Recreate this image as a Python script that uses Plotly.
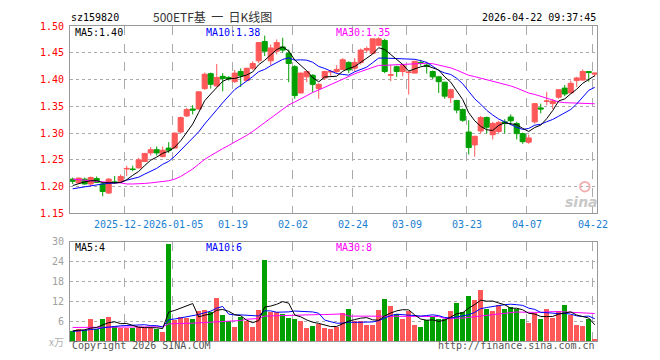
import pandas as pd
import plotly.graph_objects as go

# ---------------- data ----------------
holidays = ["2026-01-01", "2026-01-02", "2026-02-16", "2026-02-17", "2026-02-18",
            "2026-02-19", "2026-02-20", "2026-02-23", "2026-04-06"]
first_day = "2025-12-09"
last_day = "2026-04-22"

opens = [1.214, 1.207, 1.214, 1.205, 1.215, 1.205, 1.188, 1.209, 1.210, 1.233,
         1.233, 1.235, 1.247, 1.263, 1.269, 1.256, 1.272, 1.272, 1.302, 1.332,
         1.345, 1.345, 1.383, 1.411, 1.388, 1.406, 1.404, 1.396, 1.415, 1.398,
         1.421, 1.435, 1.471, 1.435, 1.453, 1.461, 1.449, 1.424, 1.375, 1.405,
         1.408, 1.383, 1.403, 1.414, 1.415, 1.419, 1.432, 1.421, 1.432, 1.455,
         1.449, 1.464, 1.473, 1.408, 1.424, 1.415, 1.413, 1.412, 1.432, 1.427,
         1.415, 1.405, 1.395, 1.366, 1.361, 1.344, 1.302, 1.278, 1.304, 1.329,
         1.297, 1.303, 1.321, 1.330, 1.318, 1.299, 1.283, 1.321, 1.347, 1.359,
         1.355, 1.367, 1.384, 1.375, 1.398, 1.399, 1.415, 1.410]
highs = [1.217, 1.217, 1.217, 1.219, 1.219, 1.207, 1.216, 1.220, 1.223, 1.239,
         1.239, 1.254, 1.263, 1.274, 1.275, 1.275, 1.283, 1.301, 1.331, 1.347,
         1.352, 1.378, 1.413, 1.413, 1.429, 1.412, 1.406, 1.418, 1.421, 1.422,
         1.434, 1.470, 1.482, 1.465, 1.475, 1.478, 1.456, 1.427, 1.413, 1.416,
         1.410, 1.393, 1.416, 1.418, 1.427, 1.440, 1.434, 1.440, 1.458, 1.462,
         1.476, 1.479, 1.476, 1.427, 1.426, 1.429, 1.415, 1.435, 1.437, 1.433,
         1.417, 1.407, 1.396, 1.383, 1.362, 1.346, 1.324, 1.295, 1.332, 1.331,
         1.321, 1.323, 1.326, 1.335, 1.321, 1.301, 1.297, 1.356, 1.355, 1.377,
         1.364, 1.381, 1.390, 1.398, 1.405, 1.419, 1.415, 1.412]
lows = [1.205, 1.205, 1.204, 1.201, 1.207, 1.182, 1.187, 1.205, 1.208, 1.220,
        1.229, 1.234, 1.246, 1.258, 1.258, 1.255, 1.263, 1.271, 1.300, 1.330,
        1.335, 1.344, 1.381, 1.383, 1.387, 1.378, 1.398, 1.394, 1.386, 1.398,
        1.418, 1.431, 1.444, 1.427, 1.447, 1.450, 1.395, 1.364, 1.374, 1.395,
        1.376, 1.364, 1.399, 1.407, 1.412, 1.418, 1.412, 1.415, 1.428, 1.450,
        1.447, 1.462, 1.412, 1.397, 1.405, 1.406, 1.372, 1.412, 1.426, 1.411,
        1.401, 1.375, 1.364, 1.356, 1.337, 1.321, 1.260, 1.256, 1.299, 1.299,
        1.288, 1.300, 1.299, 1.315, 1.288, 1.280, 1.280, 1.318, 1.337, 1.352,
        1.345, 1.364, 1.369, 1.375, 1.386, 1.398, 1.396, 1.405]
closes = [1.210, 1.216, 1.205, 1.217, 1.208, 1.191, 1.214, 1.207, 1.219, 1.234,
          1.232, 1.250, 1.262, 1.269, 1.263, 1.268, 1.268, 1.300, 1.329, 1.344,
          1.343, 1.377, 1.410, 1.391, 1.404, 1.402, 1.401, 1.412, 1.407, 1.421,
          1.430, 1.469, 1.453, 1.459, 1.469, 1.455, 1.430, 1.370, 1.412, 1.415,
          1.391, 1.391, 1.415, 1.415, 1.419, 1.437, 1.418, 1.432, 1.455, 1.458,
          1.476, 1.476, 1.415, 1.409, 1.415, 1.426, 1.414, 1.434, 1.430, 1.425,
          1.405, 1.396, 1.369, 1.381, 1.343, 1.324, 1.273, 1.294, 1.329, 1.311,
          1.318, 1.320, 1.318, 1.323, 1.299, 1.284, 1.291, 1.355, 1.345, 1.360,
          1.360, 1.381, 1.373, 1.393, 1.403, 1.415, 1.413, 1.412]
volumes = [3.0, 3.7, 3.3, 6.8, 3.7, 6.8, 7.2, 4.5, 4.0, 4.0,
           4.0, 4.3, 4.0, 4.0, 3.7, 2.8, 29.3, 6.5, 7.2, 7.0,
           6.7, 9.0, 9.3, 8.7, 12.9, 7.8, 6.2, 4.2, 7.2, 6.0,
           4.2, 9.3, 24.7, 8.7, 8.7, 8.2, 7.0, 6.7, 6.0, 4.0,
           4.7, 5.3, 4.0, 3.8, 4.2, 8.4, 9.8, 6.2, 6.0, 5.0,
           5.0, 9.3, 12.6, 10.5, 8.2, 6.8, 9.0, 5.0, 4.2, 6.5,
           7.2, 6.8, 6.8, 9.0, 11.4, 8.7, 13.8, 12.3, 15.6, 9.8,
           9.0, 10.8, 9.6, 10.4, 9.8, 6.6, 5.5, 8.6, 6.6, 9.6,
           6.9, 9.0, 10.8, 7.8, 4.8, 4.5, 6.8, 0.7]

ma5_head = [1.202, 1.206, 1.209, 1.211]
ma10_head = [1.196, 1.198, 1.200, 1.202, 1.204, 1.205, 1.206, 1.207, 1.208]
ma30_head = [1.214, 1.213, 1.212, 1.211, 1.210, 1.208, 1.207, 1.207, 1.207, 1.205,
             1.205, 1.205, 1.206, 1.207, 1.208, 1.209, 1.211, 1.214, 1.219, 1.226,
             1.233, 1.242, 1.251, 1.258, 1.265, 1.271, 1.277, 1.283, 1.289]
vma5_head = [3.1, 3.3, 3.4, 3.9]
vma10_head = [2.9, 3.0, 3.2, 3.5, 3.6, 4.0, 4.3, 4.4, 4.6]
vma30_head = [4.1, 4.1, 4.2, 4.2, 4.2, 4.3, 4.3, 4.3, 4.3, 4.3,
              4.3, 4.3, 4.3, 4.3, 4.3, 4.3, 5.2, 5.2, 5.3, 5.3,
              5.4, 5.5, 5.6, 5.7, 5.8, 5.9, 6.0, 6.1, 6.2]

tick_dates = ["2025-12-22", "2026-01-05", "2026-01-19", "2026-02-02", "2026-02-24",
              "2026-03-09", "2026-03-23", "2026-04-07", "2026-04-22"]
# first label is shown cut off by the next one, as in the original
tick_labels = ["2025-12-", "2026-01-05", "01-19", "02-02", "02-24",
               "03-09", "03-23", "04-07", "04-22"]
price_ticks = [1.15, 1.20, 1.25, 1.30, 1.35, 1.40, 1.45, 1.50]
vol_ticks = [6, 12, 18, 24, 30]

legend_price = ["MA5:1.40", "MA10:1.38", "MA30:1.35"]
legend_vol = ["MA5:4", "MA10:6", "MA30:8"]
code_text = "sz159820"
title_text = "500ETF基&nbsp;&nbsp;一&nbsp;&nbsp;日K线图"
time_text = "2026-04-22 09:37:45"

# ---------------- derived ----------------
days = [d for d in pd.bdate_range(first_day, last_day).strftime("%Y-%m-%d") if d not in holidays]
idx = list(range(len(days)))
tick_pos = [days.index(d) for d in tick_dates]


def moving(values, n, head):
    s = pd.Series(values).rolling(n).mean().tolist()
    return head + s[len(head):]


ma5 = moving(closes, 5, ma5_head)
ma10 = moving(closes, 10, ma10_head)
ma30 = moving(closes, 30, ma30_head)
vma5 = moving(volumes, 5, vma5_head)
vma10 = moving(volumes, 10, vma10_head)
vma30 = moving(volumes, 30, vma30_head)

RED = "#ff5858"
GREEN = "#00a000"
vol_colors = [RED if c >= o else GREEN for o, c in zip(opens, closes)]
MONO = "DejaVu Sans Mono"

fig = go.Figure()
fig.add_trace(go.Candlestick(
    x=idx, open=opens, high=highs, low=lows, close=closes,
    increasing=dict(line=dict(color=RED, width=1), fillcolor=RED),
    decreasing=dict(line=dict(color=GREEN, width=1), fillcolor=GREEN),
    whiskerwidth=0, showlegend=False, xaxis="x", yaxis="y"))
for vals, col in [(ma30, "#ff00ff"), (ma10, "#0000ff"), (ma5, "#000000")]:
    fig.add_trace(go.Scatter(x=idx, y=vals, mode="lines", line=dict(color=col, width=1),
                             showlegend=False, xaxis="x", yaxis="y"))
fig.add_trace(go.Bar(x=idx, y=volumes, marker=dict(color=vol_colors, line=dict(width=0)),
                     width=0.83, showlegend=False, xaxis="x2", yaxis="y2"))
for vals, col in [(vma30, "#ff00ff"), (vma10, "#0000ff"), (vma5, "#000000")]:
    fig.add_trace(go.Scatter(x=idx, y=vals, mode="lines", line=dict(color=col, width=1),
                             showlegend=False, xaxis="x2", yaxis="y2"))

grid_x = [p - 0.33 for p in tick_pos]
xcommon = dict(range=[-0.45, 87.38], tickvals=grid_x, showticklabels=False, ticks="",
               showgrid=True, gridcolor="#aaaaaa", griddash="dash", gridwidth=1,
               showline=True, mirror=True, linecolor="#999999", linewidth=1,
               zeroline=False, fixedrange=True)
# page body has an 8px default margin, so the figure margins are reduced by 8px
fig.update_layout(
    width=660, height=360,
    margin=dict(l=62, r=71, t=12, b=27),
    paper_bgcolor="white", plot_bgcolor="white",
    boxgap=0.15, boxgroupgap=0, bargap=0,
    xaxis=dict(anchor="y", rangeslider=dict(visible=False), **xcommon),
    xaxis2=dict(anchor="y2", matches="x", **xcommon),
    yaxis=dict(domain=[0.405, 1.0], range=[1.15, 1.50], tickvals=price_ticks,
               ticktext=[f"{v:.2f}" for v in price_ticks], ticks="", ticklabelstandoff=3,
               tickfont=dict(family=MONO, size=10, color="#ff0000"),
               showgrid=True, gridcolor="#aaaaaa", griddash="dot", gridwidth=1,
               showline=True, mirror=True, linecolor="#999999", linewidth=1,
               zeroline=False, fixedrange=True),
    yaxis2=dict(domain=[0.0, 0.3146], range=[0, 30], tickvals=vol_ticks,
                ticktext=[str(v) for v in vol_ticks], ticks="", ticklabelstandoff=3,
                tickfont=dict(family=MONO, size=10, color="#a0a0a0"),
                showgrid=True, gridcolor="#aaaaaa", griddash="dot", gridwidth=1,
                showline=True, mirror=True, linecolor="#999999", linewidth=1,
                zeroline=False, fixedrange=True),
    showlegend=False,
)

ann = []
for k, (p, lab) in enumerate(zip(tick_pos, tick_labels)):
    if k == 0:
        # the cut label ends where the following label starts
        ann.append(dict(x=tick_pos[1] - 0.33 - 5.0, xref="x", y=0.3707, yref="paper", text=lab,
                        showarrow=False, xanchor="right", yanchor="middle", borderpad=0,
                        font=dict(family=MONO, size=10, color="#1a80d0")))
        continue
    ann.append(dict(x=p - 0.33, xref="x", y=0.3707, yref="paper", text=lab, showarrow=False,
                    xanchor="center", yanchor="middle", borderpad=0,
                    font=dict(family=MONO, size=10, color="#1a80d0")))
lx = [0.0076, 0.256, 0.503]
lcol = ["#000000", "#0000ff", "#ff00ff"]
for x, t, c in zip(lx, legend_price, lcol):
    ann.append(dict(x=x, xref="paper", y=0.979, yref="paper", text=t, showarrow=False,
                    xanchor="left", yanchor="middle", borderpad=0,
                    font=dict(family=MONO, size=10, color=c)))
for x, t, c in zip(lx, legend_vol, lcol):
    ann.append(dict(x=x, xref="paper", y=0.296, yref="paper", text=t, showarrow=False,
                    xanchor="left", yanchor="middle", borderpad=0,
                    font=dict(family=MONO, size=10, color=c)))
ann.append(dict(x=0, xref="paper", y=1.028, yref="paper", text=code_text, showarrow=False,
                xanchor="left", yanchor="middle", borderpad=0,
                font=dict(family=MONO, size=10, color="#000")))
ann.append(dict(x=0.271, xref="paper", y=1.03, yref="paper", text=title_text, showarrow=False,
                xanchor="center", yanchor="middle", borderpad=0,
                font=dict(family="Noto Sans CJK SC", size=12, color="#333")))
ann.append(dict(x=1, xref="paper", y=1.028, yref="paper", text=time_text, showarrow=False,
                xanchor="right", yanchor="middle", borderpad=0,
                font=dict(family=MONO, size=10, color="#000")))
ann.append(dict(x=0, xref="paper", y=-0.0156, yref="paper", text="Copyright 2026 SINA.COM",
                showarrow=False, xanchor="left", yanchor="middle",
                font=dict(family=MONO, size=10, color="#555")))
ann.append(dict(x=1, xref="paper", y=-0.0156, yref="paper", text="http://finance.sina.com.cn",
                showarrow=False, xanchor="right", yanchor="middle",
                font=dict(family=MONO, size=10, color="#555")))
ann.append(dict(x=-0.026, xref="paper", y=0.0, yref="paper", text="x万", showarrow=False,
                xanchor="center", yanchor="middle",
                font=dict(family="Noto Sans CJK SC", size=10, color="#b0b0b0")))
ann.append(dict(x=0.970, xref="paper", y=0.44, yref="paper", text="<b><i>sina</i></b>",
                showarrow=False, xanchor="center", yanchor="middle",
                font=dict(family="DejaVu Sans", size=14, color="#c8c8c8")))
fig.update_layout(annotations=ann)
fig.add_shape(type="circle", xref="paper", yref="paper", x0=0.968, x1=0.986, y0=0.475, y1=0.505,
              line=dict(color="#f2b0b0", width=2))

fig.write_html("out.html")
